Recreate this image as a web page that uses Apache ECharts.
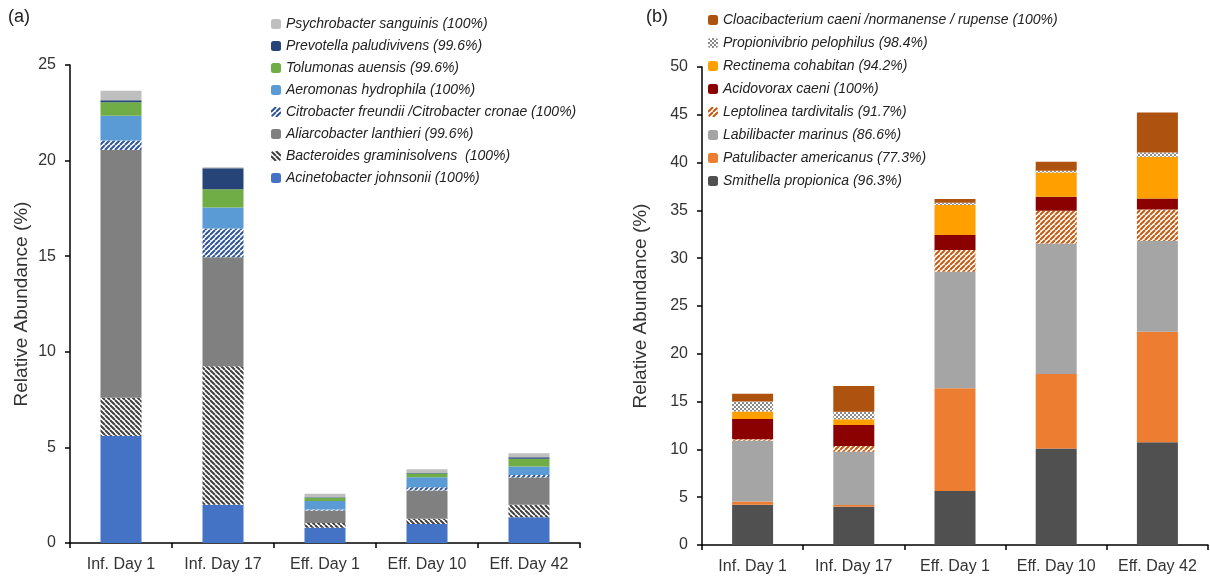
<!DOCTYPE html>
<html><head><meta charset="utf-8">
<script src="https://cdn.jsdelivr.net/npm/echarts@6/dist/echarts.min.js"></script>
<style>html,body{margin:0;padding:0;background:#fff}#c{width:1210px;height:586px}</style>
</head><body><div id="c"></div>
<script>
// ---- data ----
const categories = ['Inf. Day 1', 'Inf. Day 17', 'Eff. Day 1', 'Eff. Day 10', 'Eff. Day 42'];

// panel (a) species, bottom-to-top stacking order
const aNames = [
  'Acinetobacter johnsonii (100%)',
  'Bacteroides graminisolvens  (100%)',
  'Aliarcobacter lanthieri (99.6%)',
  'Citrobacter freundii /Citrobacter cronae (100%)',
  'Aeromonas hydrophila (100%)',
  'Tolumonas auensis (99.6%)',
  'Prevotella paludivivens (99.6%)',
  'Psychrobacter sanguinis (100%)'
];
const acinetobacter = [5.6, 2.0, 0.8, 1.0, 1.35];
const bacteroides   = [2.0, 7.25, 0.25, 0.27, 0.65];
const aliarcobacter = [12.95, 5.7, 0.65, 1.47, 1.43];
const citrobacter   = [0.5, 1.5, 0.05, 0.17, 0.12];
const aeromonas     = [1.3, 1.1, 0.45, 0.53, 0.45];
const tolumonas     = [0.7, 0.95, 0.17, 0.2, 0.4];
const prevotella    = [0.1, 1.1, 0.02, 0.02, 0.09];
const psychrobacter = [0.5, 0.05, 0.18, 0.2, 0.21];

// panel (b) species, bottom-to-top stacking order
const bNames = [
  'Smithella propionica (96.3%)',
  'Patulibacter americanus (77.3%)',
  'Labilibacter marinus (86.6%)',
  'Leptolinea tardivitalis (91.7%)',
  'Acidovorax caeni (100%)',
  'Rectinema cohabitan (94.2%)',
  'Propionivibrio pelophilus (98.4%)',
  'Cloacibacterium caeni /normanense / rupense (100%)'
];
const smithella      = [4.2, 4.0, 5.65, 10.1, 10.75];
const patulibacter   = [0.35, 0.18, 10.74, 7.78, 11.55];
const labilibacter   = [6.35, 5.58, 12.2, 13.67, 9.5];
const leptolinea     = [0.17, 0.6, 2.27, 3.41, 3.3];
const acidovorax     = [2.1, 2.19, 1.57, 1.46, 1.15];
const rectinema      = [0.8, 0.6, 3.13, 2.55, 4.35];
const propionivibrio = [1.05, 0.8, 0.24, 0.17, 0.45];
const cloacibacterium= [0.8, 2.68, 0.39, 0.95, 4.2];

const aTicks = [0, 5, 10, 15, 20, 25];
const bTicks = [0, 5, 10, 15, 20, 25, 30, 35, 40, 45, 50];

// ---- patterns ----
function stripes(fg, bg, forward) {
  const s = 5, c = document.createElement('canvas');
  c.width = s; c.height = s;
  const g = c.getContext('2d');
  g.fillStyle = bg; g.fillRect(0, 0, s, s);
  g.strokeStyle = fg; g.lineWidth = 2;
  g.beginPath();
  for (let k = -s; k <= s; k += s) {
    if (forward) { g.moveTo(k, s); g.lineTo(k + s, 0); }
    else { g.moveTo(k, 0); g.lineTo(k + s, s); }
  }
  g.stroke();
  return { image: c, repeat: 'repeat' };
}
function dots(fg, bg) {
  const s = 4, c = document.createElement('canvas');
  c.width = s; c.height = s;
  const g = c.getContext('2d');
  g.fillStyle = bg; g.fillRect(0, 0, s, s);
  g.fillStyle = fg;
  g.fillRect(0, 0, 2, 2); g.fillRect(2, 2, 2, 2);
  return { image: c, repeat: 'repeat' };
}

const aData = [acinetobacter, bacteroides, aliarcobacter, citrobacter, aeromonas, tolumonas, prevotella, psychrobacter];
const aColors = ['#4472C4', stripes('#404040', '#ffffff', false), '#808080', stripes('#2F5597', '#ffffff', true),
                 '#5B9BD5', '#70AD47', '#264478', '#BFBFBF'];
const bData = [smithella, patulibacter, labilibacter, leptolinea, acidovorax, rectinema, propionivibrio, cloacibacterium];
const bColors = ['#505050', '#ED7D31', '#A5A5A5', stripes('#C55A11', '#ffffff', true),
                 '#8B0000', '#FFA000', dots('#8a8a8a', '#ffffff'), '#AE520F'];

const series = [];
aNames.forEach((n, i) => series.push({
  name: n, type: 'bar', stack: 'a', xAxisIndex: 0, yAxisIndex: 0,
  barWidth: 41, data: aData[i], itemStyle: { color: aColors[i] }
}));
bNames.forEach((n, i) => series.push({
  name: n, type: 'bar', stack: 'b', xAxisIndex: 1, yAxisIndex: 1,
  barWidth: 41, data: bData[i], itemStyle: { color: bColors[i] }
}));

const axisLine = { show: true, lineStyle: { color: '#000', width: 1.5 } };
const tick = { show: true, length: 5, lineStyle: { color: '#000', width: 1.5 } };
const lbl = { color: '#333', fontSize: 16, fontFamily: 'Liberation Sans' };
const legText = { fontStyle: 'italic', fontSize: 14, color: '#222', fontFamily: 'Liberation Sans' };

const chart = echarts.init(document.getElementById('c'), null, { renderer: 'canvas' });
chart.setOption({
  animation: false,
  backgroundColor: '#fff',
  grid: [
    { left: 70, top: 65, width: 510, height: 478 },
    { left: 702, top: 67, width: 506, height: 478 }
  ],
  xAxis: [0, 1].map(i => ({
    type: 'category', gridIndex: i, data: categories,
    axisLine, axisTick: tick, axisLabel: Object.assign({ margin: 14, interval: 0 }, lbl)
  })),
  yAxis: [
    { type: 'value', gridIndex: 0, min: 0, max: aTicks[aTicks.length - 1], interval: 5,
      axisLine, axisTick: tick, splitLine: { show: false },
      axisLabel: Object.assign({ margin: 14 }, lbl),
      name: 'Relative Abundance (%)', nameLocation: 'middle', nameGap: 39,
      nameTextStyle: { fontSize: 19, color: '#333', fontFamily: 'Liberation Sans' } },
    { type: 'value', gridIndex: 1, min: 0, max: bTicks[bTicks.length - 1], interval: 5,
      axisLine, axisTick: tick, splitLine: { show: false },
      axisLabel: Object.assign({ margin: 14 }, lbl),
      name: 'Relative Abundance (%)', nameLocation: 'middle', nameGap: 52,
      nameTextStyle: { fontSize: 19, color: '#333', fontFamily: 'Liberation Sans' } }
  ],
  legend: [
    { orient: 'vertical', left: 266, top: 12, itemWidth: 10, itemHeight: 10, itemGap: 8,
      data: aNames.slice().reverse(), textStyle: legText, selectedMode: false },
    { orient: 'vertical', left: 703, top: 8, itemWidth: 10, itemHeight: 10, itemGap: 9,
      data: bNames.slice().reverse(), textStyle: legText, selectedMode: false }
  ],
  graphic: [
    { type: 'text', left: 8, top: 8, style: { text: '(a)', fontSize: 18, fill: '#222', fontFamily: 'Liberation Sans' } },
    { type: 'text', left: 646, top: 8, style: { text: '(b)', fontSize: 18, fill: '#222', fontFamily: 'Liberation Sans' } }
  ],
  series
});
</script></body></html>
